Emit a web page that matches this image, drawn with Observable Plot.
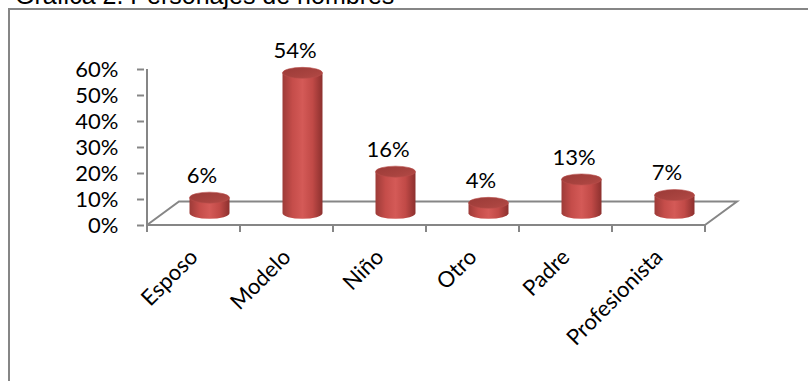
<!DOCTYPE html>
<html>
<head>
<meta charset="utf-8">
<script src="https://cdn.jsdelivr.net/npm/d3@7"></script>
<script src="https://cdn.jsdelivr.net/npm/@observablehq/plot@0.6"></script>
<style>
  html, body { margin: 0; padding: 0; background: #fff; overflow: hidden; width: 808px; height: 381px; }
  #wrap { position: relative; width: 808px; height: 381px; overflow: hidden; }
  #title { position: absolute; left: 15px; top: -17px; font: 25px "Liberation Sans", Arial, sans-serif; line-height: 25px; color: #000; white-space: nowrap; }
  #border { position: absolute; left: 8px; top: 8px; width: 900px; height: 500px; border: 2px solid #868686; box-sizing: border-box; }
  #chart { position: absolute; left: 0; top: 0; }
</style>
</head>
<body>
<div id="wrap">
  <div id="border"></div>
  <div id="title">Gráfica 2. Personajes de hombres</div>
  <div id="chart"></div>
</div>
<script>
const categories = ["Esposo", "Modelo", "Niño", "Otro", "Padre", "Profesionista"];
const values = [0.06, 0.54, 0.16, 0.04, 0.13, 0.07];
const valueLabels = ["6%", "54%", "16%", "4%", "13%", "7%"];
const yTicks = [0, 0.1, 0.2, 0.3, 0.4, 0.5, 0.6];

const data = categories.map((c, i) => ({category: c, value: values[i], label: valueLabels[i]}));

const AXIS = "#868686";
const DEPTH_X = 32, DEPTH_Y = -23.5; // 3D floor depth

function floorAndAxes(index, scales) {
  const x = scales.x, y = scales.y;
  const bw = x.bandwidth();
  const x0 = x(categories[0]);
  const x1 = x(categories[categories.length - 1]) + bw;
  const y0 = y(0), yTop = y(yTicks[yTicks.length - 1]);
  const g = d3.create("svg:g").attr("fill", "none").attr("stroke", AXIS).attr("stroke-width", 2);
  // back edge and sides of the floor
  g.append("path").attr("d", `M${x0},${y0}L${x0 + DEPTH_X},${y0 + DEPTH_Y}L${x1 + DEPTH_X},${y0 + DEPTH_Y}L${x1},${y0}`);
  // front edge
  g.append("line").attr("x1", x0).attr("x2", x1).attr("y1", y0).attr("y2", y0);
  // vertical axis line
  g.append("line").attr("x1", x0).attr("x2", x0).attr("y1", yTop).attr("y2", y0 + 7);
  // category boundary ticks
  const bounds = categories.map(c => x(c)).concat([x1]);
  for (const b of bounds) g.append("line").attr("x1", b).attr("x2", b).attr("y1", y0).attr("y2", y0 + 7);
  return g.node();
}

function cylinders(index, scales) {
  const x = scales.x, y = scales.y;
  const bw = x.bandwidth();
  const g = d3.create("svg:g");
  const defs = g.append("defs");
  const grad = defs.append("linearGradient").attr("id", "cylBody").attr("x1", 0).attr("x2", 1).attr("y1", 0).attr("y2", 0);
  [[0, "#9d3b38"], [0.25, "#c54d4a"], [0.5, "#d45a57"], [0.75, "#c14a47"], [1, "#8c302e"]]
    .forEach(([o, c]) => grad.append("stop").attr("offset", o).attr("stop-color", c));
  const gradTop = defs.append("linearGradient").attr("id", "cylTop").attr("x1", 0).attr("x2", 1).attr("y1", 0).attr("y2", 1);
  [[0, "#9a3a37"], [0.6, "#a8433f"], [1, "#b44a46"]]
    .forEach(([o, c]) => gradTop.append("stop").attr("offset", o).attr("stop-color", c));
  const rx = bw * 0.215, ry = 5.5;
  for (const d of data) {
    const cx = x(d.category) + bw / 2 + DEPTH_X / 2;
    const base = y(0) + DEPTH_Y / 2;
    const top = y(d.value) + DEPTH_Y / 2;
    g.append("path")
      .attr("d", `M${cx - rx},${top}L${cx - rx},${base}A${rx},${ry} 0 0 0 ${cx + rx},${base}L${cx + rx},${top}Z`)
      .attr("fill", "url(#cylBody)");
    g.append("ellipse")
      .attr("cx", cx).attr("cy", top).attr("rx", rx).attr("ry", ry)
      .attr("fill", "url(#cylTop)")
      .attr("stroke", "#b84d4a").attr("stroke-width", 0.6);
  }
  return g.node();
}

const chart = Plot.plot({
  width: 808,
  height: 381,
  marginLeft: 144,
  marginRight: 101,
  marginTop: 69,
  marginBottom: 156,
  style: {background: "transparent", fontFamily: "Lato, sans-serif", fontSize: "22px", color: "#000", overflow: "visible"},
  x: {type: "band", domain: categories, padding: 0, axis: null},
  y: {domain: [0, 0.6], axis: null},
  marks: [
    Plot.axisY({ticks: yTicks, tickFormat: d => Math.round(d * 100) + "%", tickSize: 7, tickPadding: 19, stroke: AXIS, strokeWidth: 2, fontSize: 22, label: null}),
    floorAndAxes,
    cylinders,
    Plot.text(data, {x: "category", y: "value", text: "label", dx: 8, dy: -34, fontSize: 22, fill: "#000"}),
    Plot.text(data, {x: "category", y: () => 0, text: "category", rotate: -45, textAnchor: "end", dx: 0, dy: 28, fontSize: 22, fill: "#000"})
  ]
});
document.getElementById("chart").appendChild(chart);
</script>
</body>
</html>
